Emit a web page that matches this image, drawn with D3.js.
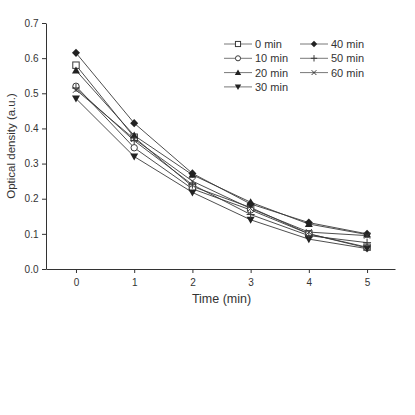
<!DOCTYPE html>
<html>
<head>
<meta charset="utf-8">
<script src="https://cdn.jsdelivr.net/npm/d3@7"></script>
<style>
  body { margin: 0; background: #fff; }
  text { font-family: "Liberation Sans", Arial, sans-serif; fill: #333; }
</style>
</head>
<body>
<svg id="chart" width="415" height="415"></svg>
<script>
// time points (min)
var times = [0, 1, 2, 3, 4, 5];
var seriesNames = ["0 min", "10 min", "20 min", "30 min", "40 min", "50 min", "60 min"];
var symbolsUsed = ["square", "circle", "triUp", "triDown", "diamond", "plus", "cross"];

var od0  = [0.580, 0.375, 0.235, 0.175, 0.100, 0.062];
var od10 = [0.520, 0.345, 0.228, 0.168, 0.100, 0.060];
var od20 = [0.565, 0.380, 0.268, 0.190, 0.128, 0.098];
var od30 = [0.485, 0.320, 0.218, 0.140, 0.085, 0.058];
var od40 = [0.615, 0.415, 0.272, 0.185, 0.132, 0.100];
var od50 = [0.515, 0.365, 0.240, 0.155, 0.095, 0.075];
var od60 = [0.510, 0.370, 0.250, 0.172, 0.105, 0.095];
var allSeries = [od0, od10, od20, od30, od40, od50, od60];

var xTicks = [0, 1, 2, 3, 4, 5];
var yTicks = [0, 0.1, 0.2, 0.3, 0.4, 0.5, 0.6, 0.7];

var svg = d3.select("#chart");
var mLeft = 46, mRight = 395, mTop = 23, mBottom = 269;

var xScale = d3.scaleLinear().domain([-0.515, 5.48]).range([mLeft, mRight]);
var yScale = d3.scaleLinear().domain([0, 0.7]).range([mBottom, mTop]);

var lineCol = "#3a3a3a";

// axes
var xAxis = svg.append("g")
  .attr("transform", "translate(0," + mBottom + ")")
  .call(d3.axisBottom(xScale).tickValues(xTicks).tickSize(4).tickSizeOuter(0).tickFormat(d3.format("d")));
var yAxis = svg.append("g")
  .attr("transform", "translate(" + mLeft + ",0)")
  .call(d3.axisLeft(yScale).tickValues(yTicks).tickSize(4).tickSizeOuter(0).tickFormat(d3.format(".1f")));

[xAxis, yAxis].forEach(function(a){
  a.selectAll("path, line").attr("stroke", "#333").attr("stroke-width", 1);
  a.selectAll("text").style("font-size", "10px").attr("fill", "#666")
    .style("font-family", "'Liberation Sans', Arial, sans-serif");
});
xAxis.selectAll("text").attr("dy", "0.95em");
yAxis.selectAll("text").attr("dx", "-0.05em");

svg.append("text")
  .attr("x", xScale(2.5)).attr("y", 303)
  .attr("text-anchor", "middle")
  .style("font-size", "12.5px")
  .text("Time (min)");

svg.append("text")
  .attr("transform", "translate(15," + yScale(0.35) + ") rotate(-90)")
  .attr("text-anchor", "middle")
  .style("font-size", "11.5px")
  .attr("fill", "#555")
  .text("Optical density (a.u.)");

// marker drawing
function drawMarker(g, type, x, y, k) {
  var s = 3.2 * k;
  if (type == "square") {
    g.append("rect").attr("x", x - s).attr("y", y - s).attr("width", 2*s).attr("height", 2*s)
      .attr("fill", "#fff").attr("stroke", lineCol);
  } else if (type == "circle") {
    g.append("circle").attr("cx", x).attr("cy", y).attr("r", s)
      .attr("fill", "#fff").attr("stroke", lineCol);
  } else if (type == "triUp") {
    g.append("path").attr("d", "M" + x + "," + (y - 4*k) + "L" + (x + 4*k) + "," + (y + 3*k) + "L" + (x - 4*k) + "," + (y + 3*k) + "Z")
      .attr("fill", "#222");
  } else if (type == "triDown") {
    g.append("path").attr("d", "M" + x + "," + (y + 4*k) + "L" + (x + 4*k) + "," + (y - 3*k) + "L" + (x - 4*k) + "," + (y - 3*k) + "Z")
      .attr("fill", "#222");
  } else if (type == "diamond") {
    g.append("path").attr("d", "M" + x + "," + (y - 4.2*k) + "L" + (x + 4*k) + "," + y + "L" + x + "," + (y + 4.2*k) + "L" + (x - 4*k) + "," + y + "Z")
      .attr("fill", "#222");
  } else if (type == "plus") {
    g.append("path").attr("d", "M" + (x - 4*k) + "," + y + "H" + (x + 4*k) + "M" + x + "," + (y - 4*k) + "V" + (y + 4*k))
      .attr("stroke", lineCol).attr("stroke-width", 1);
  } else if (type == "cross") {
    g.append("path").attr("d", "M" + (x - 3*k) + "," + (y - 3*k) + "L" + (x + 3*k) + "," + (y + 3*k) + "M" + (x + 3*k) + "," + (y - 3*k) + "L" + (x - 3*k) + "," + (y + 3*k))
      .attr("stroke", lineCol).attr("stroke-width", 1);
  }
}

var line = d3.line()
  .x(function(d, i){ return xScale(times[i]); })
  .y(function(d){ return yScale(d); });

var plot = svg.append("g");
allSeries.forEach(function(vals, k){
  plot.append("path").datum(vals)
    .attr("d", line)
    .attr("fill", "none")
    .attr("stroke", lineCol)
    .attr("stroke-width", 0.9);
});
allSeries.forEach(function(vals, k){
  vals.forEach(function(v, i){
    drawMarker(plot, symbolsUsed[k], xScale(times[i]), yScale(v), 1);
  });
});

// legend
var legend = svg.append("g");
var colX = [224, 300];
var rowY = [44, 58.3, 72.6, 86.9];
seriesNames.forEach(function(name, k){
  var col = k < 4 ? 0 : 1;
  var row = k < 4 ? k : k - 4;
  var x0 = colX[col], y0 = rowY[row];
  legend.append("line").attr("x1", x0).attr("x2", x0 + 28).attr("y1", y0).attr("y2", y0)
    .attr("stroke", "#555").attr("stroke-width", 0.8);
  drawMarker(legend, symbolsUsed[k], x0 + 14, y0, 0.8);
  legend.append("text").attr("x", x0 + 31).attr("y", y0 + 4)
    .style("font-size", "11px")
    .text(name);
});
</script>
</body>
</html>
